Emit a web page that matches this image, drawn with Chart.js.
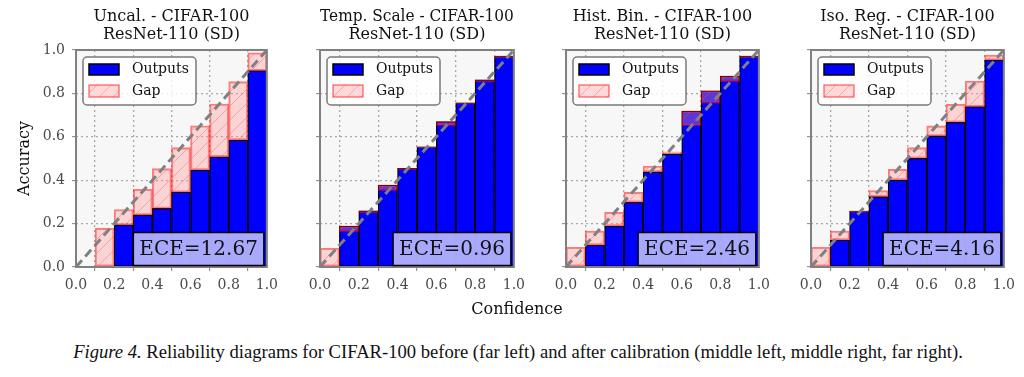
<!DOCTYPE html>
<html><head><meta charset="utf-8">
<script src="https://cdn.jsdelivr.net/npm/chart.js@4.4.0/dist/chart.umd.min.js"></script>
<style>
html,body{margin:0;padding:0;background:#fff;}
#fig{position:relative;width:1024px;height:377px;overflow:hidden;background:#fff;}
.panel{position:absolute;top:0;}
#xlabel{position:absolute;left:417px;width:200px;top:299px;text-align:center;font:16px 'DejaVu Serif';color:#111;line-height:20px;}
#caption{position:absolute;top:341px;left:18px;width:1000px;text-align:center;font:18.6px 'Liberation Serif';color:#111;line-height:22px;white-space:nowrap;}
</style></head>
<body>
<div id="fig">
  <div class="panel" style="left:0px"><canvas id="c0" width="284" height="300"></canvas></div>
  <div class="panel" style="left:290px"><canvas id="c1" width="241" height="300"></canvas></div>
  <div class="panel" style="left:536px"><canvas id="c2" width="240" height="300"></canvas></div>
  <div class="panel" style="left:781px"><canvas id="c3" width="240" height="300"></canvas></div>
  <div id="xlabel">Confidence</div>
  <div id="caption"><i>Figure 4.</i> Reliability diagrams for CIFAR-100 before (far left) and after calibration (middle left, middle right, far right).</div>
</div>
<script>
// ---- data ----
const binCenters = [0.05, 0.15, 0.25, 0.35, 0.45, 0.55, 0.65, 0.75, 0.85, 0.95];
const tickValues = [0, 0.2, 0.4, 0.6, 0.8, 1.0];
const perfectCalibration = [{x: 0, y: 0}, {x: 1, y: 1}];
const titles = [
  ["Uncal. - CIFAR-100", "ResNet-110 (SD)"],
  ["Temp. Scale - CIFAR-100", "ResNet-110 (SD)"],
  ["Hist. Bin. - CIFAR-100", "ResNet-110 (SD)"],
  ["Iso. Reg. - CIFAR-100", "ResNet-110 (SD)"]
];
const eceValues = ["12.67", "0.96", "2.46", "4.16"];
const legendLabels = ["Outputs", "Gap"];

const uncalOutputs    = [null, null, 0.194, 0.240, 0.270, 0.345, 0.447, 0.508, 0.585, 0.905];
const uncalConfidence = [null, 0.178, 0.265, 0.358, 0.453, 0.550, 0.651, 0.751, 0.854, 0.987];
const tempOutputs     = [null, 0.189, 0.259, 0.378, 0.455, 0.554, 0.670, 0.757, 0.862, 0.972];
const tempConfidence  = [0.086, 0.163, 0.248, 0.352, 0.448, 0.548, 0.650, 0.750, 0.852, 0.965];
const histOutputs     = [null, 0.101, 0.189, 0.298, 0.438, 0.521, 0.719, 0.812, 0.880, 0.972];
const histConfidence  = [0.091, 0.166, 0.252, 0.344, 0.465, 0.531, 0.650, 0.754, 0.854, 0.965];
const isoOutputs      = [null, 0.124, 0.258, 0.324, 0.401, 0.501, 0.604, 0.667, 0.739, 0.954];
const isoConfidence   = [0.091, 0.166, 0.252, 0.352, 0.450, 0.550, 0.650, 0.750, 0.857, 0.977];

const panelOutputs = [uncalOutputs, tempOutputs, histOutputs, isoOutputs];
const panelConfidence = [uncalConfidence, tempConfidence, histConfidence, isoConfidence];

// ---- styling ----
const FONT = "'DejaVu Serif'";
Chart.defaults.font.family = FONT;
const panelLayout = [
  {yw: 76, showY: true},
  {yw: 30, showY: false},
  {yw: 30, showY: false},
  {yw: 30, showY: false}
];

function makeHatch() {
  const s = 14;
  const c = document.createElement('canvas'); c.width = s; c.height = s;
  const g = c.getContext('2d');
  g.fillStyle = 'rgba(255,150,150,0.36)'; g.fillRect(0, 0, s, s);
  g.strokeStyle = 'rgba(255,80,80,0.4)'; g.lineWidth = 1;
  g.beginPath();
  g.moveTo(0, s); g.lineTo(s, 0);
  g.moveTo(-2, 2); g.lineTo(2, -2);
  g.moveTo(s - 2, s + 2); g.lineTo(s + 2, s - 2);
  g.stroke();
  return g.createPattern(c, 'repeat');
}
const hatch = makeHatch();
const GAP_EDGE = 'rgba(255,0,0,0.5)';

const decorPlugin = {
  id: 'decor',
  beforeDraw(chart) {
    const a = chart.chartArea, ctx = chart.ctx;
    ctx.save();
    ctx.fillStyle = '#f7f7f7';
    ctx.fillRect(a.left, a.top, a.right - a.left, a.bottom - a.top);
    ctx.restore();
  },
  afterDatasetsDraw(chart, args, opts) {
    const a = chart.chartArea, ctx = chart.ctx;
    ctx.save();
    // frame
    ctx.strokeStyle = '#808080'; ctx.lineWidth = 2;
    ctx.strokeRect(a.left, a.top, a.right - a.left, a.bottom - a.top);
    // ECE box
    ctx.font = '20px ' + FONT;
    const txt = 'ECE=' + opts.ece;
    const tw = ctx.measureText(txt).width;
    const bw = tw + 12, bh = 33;
    const bx = a.right - 3 - bw, by = a.bottom - 1.5 - bh;
    ctx.fillStyle = 'rgba(182,182,255,0.92)';
    ctx.fillRect(bx, by, bw, bh);
    ctx.strokeStyle = '#000'; ctx.lineWidth = 1.5;
    ctx.strokeRect(bx, by, bw, bh);
    ctx.fillStyle = '#111'; ctx.textBaseline = 'middle'; ctx.textAlign = 'left';
    ctx.fillText(txt, bx + 6, by + bh / 2 + 1);
    // legend
    const lx = a.left + 7, ly = a.top + 7, lw = 113, lh = 48;
    ctx.beginPath();
    ctx.roundRect(lx, ly, lw, lh, 4);
    ctx.fillStyle = 'rgba(255,255,255,0.8)'; ctx.fill();
    ctx.strokeStyle = '#7a7a7a'; ctx.lineWidth = 1.5; ctx.stroke();
    // outputs swatch
    ctx.fillStyle = '#0000ff'; ctx.fillRect(lx + 6, ly + 7, 30, 11);
    ctx.strokeStyle = '#000'; ctx.lineWidth = 1.5; ctx.strokeRect(lx + 6, ly + 7, 30, 11);
    // gap swatch
    ctx.fillStyle = '#fff'; ctx.fillRect(lx + 6, ly + 28, 30, 12);
    ctx.fillStyle = hatch; ctx.fillRect(lx + 6, ly + 28, 30, 12);
    ctx.strokeStyle = GAP_EDGE; ctx.strokeRect(lx + 6, ly + 28, 30, 12);
    ctx.font = '14px ' + FONT; ctx.fillStyle = '#111';
    ctx.fillText(legendLabels[0], lx + 49, ly + 12);
    ctx.fillText(legendLabels[1], lx + 49, ly + 34);
    ctx.restore();
  }
};

function makeChart(i) {
  const outs = panelOutputs[i], confs = panelConfidence[i];
  const L = panelLayout[i];
  const outputData = binCenters.map((x, k) => ({x: x, y: outs[k]}));
  const gapData = binCenters.map((x, k) => ({x: x, y: confs[k] === null ? null : [outs[k] === null ? 0 : outs[k], confs[k]]}));
  return new Chart(document.getElementById('c' + i), {
    data: {
      datasets: [
        {type: 'line', label: 'diag', data: perfectCalibration, borderColor: '#808080', borderWidth: 3,
         borderDash: [9, 5], pointRadius: 0, order: 0},
        {type: 'bar', label: legendLabels[1], data: gapData, backgroundColor: hatch, borderColor: GAP_EDGE,
         borderWidth: 1.4, borderSkipped: false, grouped: false, barPercentage: 1, categoryPercentage: 1, order: 1},
        {type: 'bar', label: legendLabels[0], data: outputData, backgroundColor: '#0000ff', borderColor: '#000',
         borderWidth: 1.3, borderSkipped: false, grouped: false, barPercentage: 1, categoryPercentage: 1, order: 2}
      ]
    },
    options: {
      responsive: false, animation: false, events: [],
      layout: {padding: {left: 0, right: 14, top: 0, bottom: 0}},
      plugins: {
        legend: {display: false}, tooltip: {enabled: false},
        title: {display: true, text: titles[i], fullSize: false, color: '#111',
                font: {size: 16, family: FONT, weight: 'normal', lineHeight: 1.125},
                padding: {top: 8, bottom: 6}},
        decor: {ece: eceValues[i]}
      },
      scales: {
        x: {
          type: 'linear', min: 0, max: 1, offset: false,
          afterBuildTicks(s) { s.ticks = tickValues.map(v => ({value: v})); },
          ticks: {callback: v => Number(v).toFixed(1), color: '#4a4a4a', font: {size: 14, family: FONT},
                  padding: 6, maxRotation: 0, autoSkip: false},
          grid: {color: '#a8a8a8', lineWidth: 1.3, tickLength: 4, tickColor: '#808080', tickWidth: 1, tickBorderDash: []},
          border: {display: false, dash: [2, 3]},
          afterFit(s) { s.height = 33; }
        },
        y: {
          type: 'linear', min: 0, max: 1,
          afterBuildTicks(s) { s.ticks = tickValues.map(v => ({value: v})); },
          ticks: {display: L.showY, callback: v => Number(v).toFixed(1), color: '#4a4a4a',
                  font: {size: 14, family: FONT}, padding: 7},
          grid: {color: '#a8a8a8', lineWidth: 1.3, tickLength: 4, tickColor: '#808080', tickWidth: 1, tickBorderDash: []},
          border: {display: false, dash: [2, 3]},
          title: {display: L.showY, text: 'Accuracy', color: '#111', font: {size: 16, family: FONT}, padding: {top: 15, bottom: 0}},
          afterFit(s) { s.width = L.yw; }
        }
      }
    },
    plugins: [decorPlugin]
  });
}
for (let i = 0; i < 4; i++) makeChart(i);
</script>
</body></html>
